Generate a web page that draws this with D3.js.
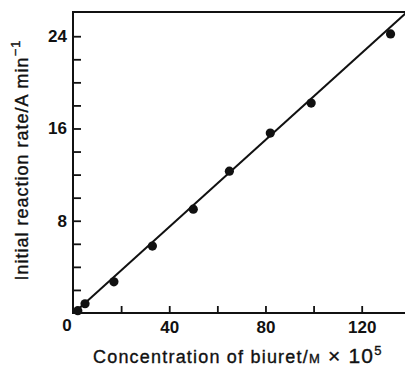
<!DOCTYPE html>
<html>
<head>
<meta charset="utf-8">
<script src="https://cdn.jsdelivr.net/npm/d3@7"></script>
<style>
  html, body { margin: 0; padding: 0; background: #fff; }
  svg { display: block; }
  text { font-family: "Liberation Sans", Arial, Helvetica, sans-serif; fill: #111; }
</style>
</head>
<body>
<svg id="chart" width="405" height="369"></svg>
<script>
// Biuret concentration (M x 10^5) and initial reaction rate (A per min)
const concentration = [2, 5, 17, 33, 50, 65, 82, 99, 132];
const rate = [0.2, 0.8, 2.7, 5.8, 9.0, 12.3, 15.6, 18.2, 24.2];

// Fitted straight line, given by its two end points
const fitX = [1, 142];
const fitY = [0.1, 26.7];

const xTicks = [0, 20, 40, 60, 80, 100, 120, 140];
const xTickLabels = ["0", "", "40", "", "80", "", "120", ""];
const yTicks = [2, 4, 6, 8, 10, 12, 14, 16, 18, 20, 22, 24];
const yTickLabels = ["", "", "", "8", "", "", "", "16", "", "", "", "24"];

const svg = d3.select("#chart");
const plotLeft = 73, plotTop = 12, plotBottom = 313, plotRight = 405;

const x = d3.scaleLinear().domain([0, 138]).range([plotLeft, plotRight]);
const y = d3.scaleLinear().domain([0, 26.1]).range([plotBottom, plotTop]);

svg.append("defs").append("clipPath").attr("id", "plot")
  .append("rect").attr("x", plotLeft).attr("y", plotTop)
  .attr("width", plotRight - plotLeft).attr("height", plotBottom - plotTop);

// Y axis with inward ticks
const yAxis = svg.append("g").attr("transform", `translate(${plotLeft},0)`)
  .call(d3.axisLeft(y).tickValues(yTicks).tickSizeInner(-8).tickSizeOuter(0)
    .tickFormat((d, i) => yTickLabels[i]));
yAxis.select(".domain").remove();
yAxis.selectAll(".tick line").attr("stroke", "#111").attr("stroke-width", 1.8);
yAxis.selectAll(".tick text").attr("x", -6).attr("font-size", 17)
  .attr("font-weight", "bold").attr("fill", "#111");

// X axis with inward ticks
const xAxis = svg.append("g").attr("transform", `translate(0,${plotBottom})`)
  .call(d3.axisBottom(x).tickValues(xTicks.filter(v => v > 0)).tickSizeInner(-7).tickSizeOuter(0)
    .tickFormat(d => xTickLabels[xTicks.indexOf(d)]));
xAxis.select(".domain").remove();
xAxis.selectAll(".tick line").attr("stroke", "#111").attr("stroke-width", 1.8);
xAxis.selectAll(".tick text").attr("y", 8).attr("font-size", 17)
  .attr("font-weight", "bold").attr("fill", "#111");

// Origin label
svg.append("text").attr("x", x(0) - 6).attr("y", plotBottom + 18)
  .attr("text-anchor", "middle").attr("font-size", 17).attr("font-weight", "bold")
  .text(xTickLabels[0]);

// Frame: left, bottom and top lines
const frame = svg.append("g").attr("stroke", "#111").attr("stroke-width", 2).attr("fill", "none");
frame.append("line").attr("x1", plotLeft).attr("x2", plotLeft).attr("y1", plotTop - 1).attr("y2", plotBottom + 1);
frame.append("line").attr("x1", plotLeft).attr("x2", plotRight).attr("y1", plotBottom).attr("y2", plotBottom);
frame.append("line").attr("x1", plotLeft - 1).attr("x2", plotRight).attr("y1", plotTop).attr("y2", plotTop);

// Fitted line
svg.append("line").attr("clip-path", "url(#plot)")
  .attr("x1", x(fitX[0])).attr("y1", y(fitY[0]))
  .attr("x2", x(fitX[1])).attr("y2", y(fitY[1]))
  .attr("stroke", "#111").attr("stroke-width", 2);

// Data points
svg.append("g").selectAll("circle")
  .data(concentration.map((c, i) => ({ c, r: rate[i] })))
  .join("circle")
  .attr("cx", d => x(d.c)).attr("cy", d => y(d.r))
  .attr("r", 4.6).attr("fill", "#111");

// Axis titles
const xt = svg.append("text").attr("x", 93).attr("y", 363)
  .attr("font-size", 18).attr("letter-spacing", 1.2)
  .attr("stroke", "#111").attr("stroke-width", 0.35);
xt.append("tspan").text("Concentration of biuret/");
xt.append("tspan").attr("font-size", 13).text("M");
xt.append("tspan").attr("font-size", 21).text(" × 10");
xt.append("tspan").attr("font-size", 13).attr("dy", -8).text("5");

const yt = svg.append("text")
  .attr("transform", "translate(28,160) rotate(-90)")
  .attr("text-anchor", "middle").attr("font-size", 18).attr("letter-spacing", 1)
  .attr("stroke", "#111").attr("stroke-width", 0.35);
yt.append("tspan").text("Initial reaction rate/A min");
yt.append("tspan").attr("font-size", 13).attr("dy", -8).text("−1");
</script>
</body>
</html>
